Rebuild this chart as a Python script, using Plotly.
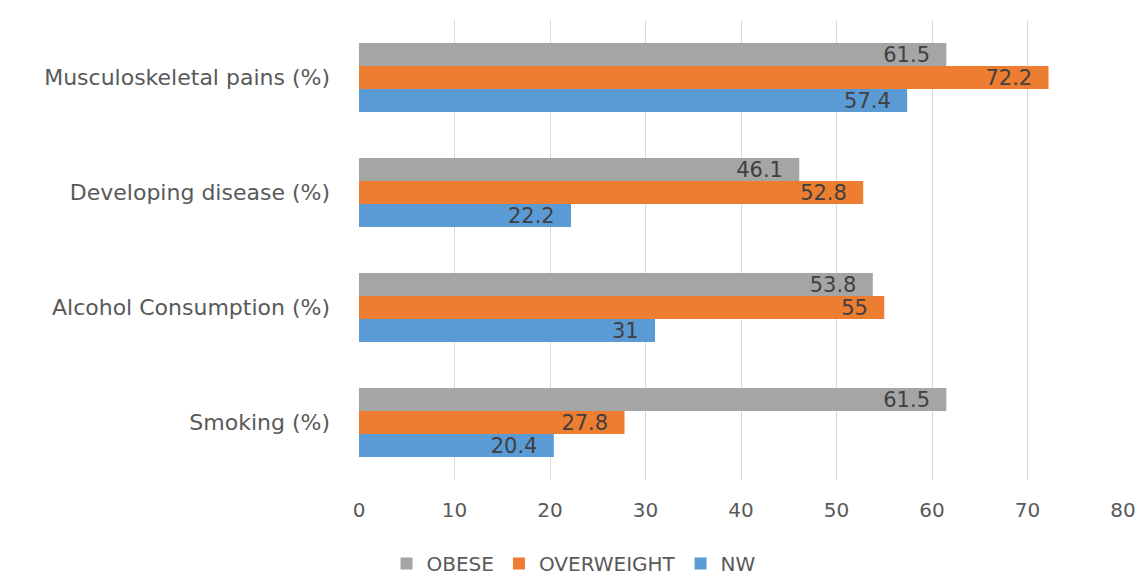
import plotly.graph_objects as go

categories = ["Smoking (%)", "Alcohol Consumption (%)", "Developing disease (%)", "Musculoskeletal pains (%)"]
nw = [20.4, 31, 22.2, 57.4]
overweight = [27.8, 55, 52.8, 72.2]
obese = [61.5, 53.8, 46.1, 61.5]
x_ticks = [0, 10, 20, 30, 40, 50, 60, 70, 80]

series = [("NW", nw, "#5B9BD5"), ("OVERWEIGHT", overweight, "#ED7D31"), ("OBESE", obese, "#A5A5A5")]

FONT = "DejaVu Sans"

fig = go.Figure()
for name, vals, color in series:
    fig.add_trace(go.Bar(
        y=categories, x=vals, name=name, orientation="h",
        marker=dict(color=color, line=dict(width=0)),
        text=[f"{v}\u00a0\u00a0" for v in vals], textposition="inside", insidetextanchor="end",
        textangle=0, constraintext="none",
        textfont=dict(color="#404040", size=21, family=FONT),
        cliponaxis=False,
    ))

fig.update_layout(
    width=1148, height=583,
    margin=dict(l=359, r=21, t=20, b=103),
    barmode="group", bargap=0.4, bargroupgap=0,
    plot_bgcolor="white", paper_bgcolor="white",
    font=dict(family=FONT, color="#595959", size=19),
    legend=dict(orientation="h", traceorder="reversed", xref="container", x=0.5, xanchor="center",
                yref="container", y=0.0, yanchor="bottom", font=dict(size=20, color="#595959"),
                itemwidth=30),
)
fig.update_xaxes(range=[0, 80], tickvals=x_ticks, showgrid=True, gridcolor="#D9D9D9",
                 zeroline=False, showline=False, ticks="", ticklabelstandoff=16,
                 tickfont=dict(size=20, color="#595959", family=FONT))
fig.update_yaxes(showgrid=False, showline=False, ticks="", ticklabelstandoff=28,
                 tickfont=dict(size=22, color="#595959", family=FONT))

fig.write_html("out.html")
